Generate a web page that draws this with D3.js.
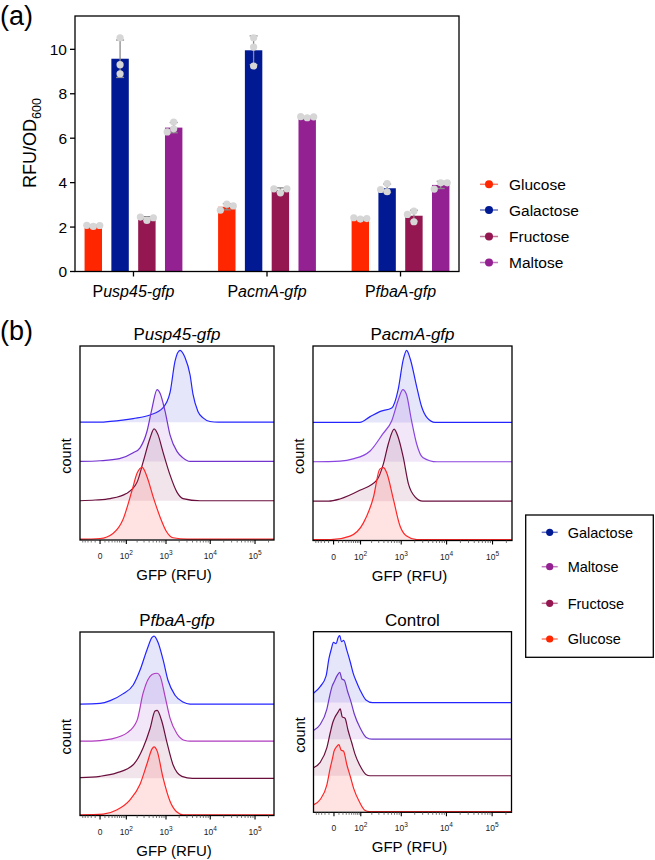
<!DOCTYPE html>
<html><head><meta charset="utf-8">
<script src="https://cdn.jsdelivr.net/npm/d3@7"></script>
<style>body{margin:0;background:#fff}svg{display:block;font-family:"Liberation Sans",Arial,Helvetica,sans-serif}</style>
</head><body><svg id="c" width="655" height="860"></svg>
<script>
// ---------- Panel (a) data ----------
const sugars = ["Glucose","Galactose","Fructose","Maltose"];
const promoters = ["usp45-gfp","acmA-gfp","fbaA-gfp"];
const glucoseReps   = [[2.03,2.08,2.07],[3.03,2.76,2.95],[2.36,2.42,2.38]];
const galactoseReps = [[10.52,9.31,8.90],[10.52,10.10,9.25],[3.96,3.59,3.69]];
const fructoseReps  = [[2.30,2.45,2.42],[3.54,3.72,3.72],[2.72,2.24,2.57]];
const maltoseReps   = [[6.73,6.42,6.28],[6.92,6.97,6.96],[3.99,3.71,3.99]];
const yTicksA = [0,2,4,6,8,10];
const barColors = ["#ff2600","#011993","#941751","#942192"];

// ---------- Panel (b) data: [GFP (RFU), % of mode] ----------
const usp45Galactose = [[-63,0],[0,0],[24,1],[157,5],[420,10],[850,20],[1236,41],[1610,85],[2090,100],[2710,90],[3520,66],[4100,39],[5300,15],[6900,6],[9870,1],[15000,0],[265000,0]];
const usp45Maltose   = [[-63,0],[0,1],[60,4],[157,12],[238,19],[355,42],[470,74],[620,100],[727,95],[950,70],[1236,37],[1780,14],[2440,5],[3520,0],[265000,0]];
const usp45Fructose  = [[-63,0],[-10,1],[24,3],[100,10],[200,26],[285,54],[420,87],[525,100],[650,92],[850,68],[1236,36],[1780,12],[2440,3],[5900,0],[265000,0]];
const usp45Glucose   = [[-63,0],[0,1],[33,8],[78,27],[146,68],[200,92],[270,100],[355,87],[500,59],[727,31],[1040,10],[1450,2],[3000,0],[265000,0]];

const acmAGalactose = [[-63,0],[95,0],[183,8],[318,15],[610,20],[850,45],[1110,87],[1320,100],[1610,87],[2200,50],[2830,22],[3690,7],[5620,0],[265000,0]];
const acmAMaltose   = [[-63,0],[13,1],[58,4],[183,15],[380,39],[610,57],[850,85],[1085,100],[1300,94],[1700,57],[2200,25],[3000,6],[6100,0],[265000,0]];
const acmAFructose  = [[-63,0],[-10,0],[13,3],[95,15],[270,29],[390,52],[510,80],[690,100],[850,89],[1110,61],[1450,24],[2030,6],[3000,0],[265000,0]];
const acmAGlucose   = [[-63,0],[-5,0],[45,5],[120,23],[225,60],[318,98],[390,100],[465,93],[665,56],[940,19],[1320,5],[2200,0],[265000,0]];

const fbaAGalactose = [[-63,0],[0,1],[24,5],[78,15],[157,28],[238,50],[355,80],[470,98],[525,100],[650,91],[850,66],[1110,35],[1610,13],[2440,3],[3520,0],[265000,0]];
const fbaAMaltose   = [[-63,0],[0,1],[24,3],[110,13],[200,31],[285,71],[470,98],[620,100],[727,96],[950,66],[1236,34],[1780,11],[2710,1],[3520,0],[265000,0]];
const fbaAFructose  = [[-63,1],[0,3],[47,8],[157,20],[285,45],[420,73],[554,99],[620,100],[800,84],[1040,54],[1450,20],[2300,3],[4000,0],[265000,0]];
const fbaAGlucose   = [[-63,0],[6,1],[47,7],[128,22],[238,45],[355,75],[470,97],[525,100],[620,94],[850,55],[1236,20],[1780,4],[2440,0],[265000,0]];

const ctrlGalactose = [[-63,14],[-35,24],[-17,40],[-10,66],[-5,80],[-1,90],[4,88],[8,97],[12,100],[16,91],[22,93],[32,78],[45,60],[58,43],[75,30],[95,19],[140,4],[210,0],[265000,0]];
const ctrlMaltose   = [[-63,13],[-35,22],[-15,45],[-8,66],[-3,80],[0,85],[6,95],[12,100],[17,90],[24,88],[34,72],[48,55],[62,38],[95,17],[140,3],[200,0],[265000,0]];
const ctrlFructose  = [[-63,12],[-35,20],[-15,42],[-7,65],[-2,80],[2,88],[8,95],[13,100],[18,88],[26,86],[36,68],[50,50],[65,33],[95,15],[140,2],[180,0],[265000,0]];
const ctrlGlucose   = [[-63,10],[-35,18],[-15,40],[-7,66],[-2,82],[0,90],[5,97],[10,100],[15,92],[22,90],[32,70],[45,52],[60,34],[90,15],[130,2],[170,0],[265000,0]];

const majorTicksB = [0,100,1000,10000,100000];
const majorLabelsB = [["0",""],["10","2"],["10","3"],["10","4"],["10","5"]];
const minorTicksB = [-50,-40,-30,-20,-10,10,20,30,40,50,60,70,80,90,200,300,400,500,600,700,800,900,2000,3000,4000,5000,6000,7000,8000,9000,20000,30000,40000,50000,60000,70000,80000,90000,200000];
const legendOrderB = ["Galactose","Maltose","Fructose","Glucose"];

const svg = d3.select("#c");

// ================= Panel (a) =================
svg.append("text").attr("x",0).attr("y",25).attr("font-size",27).text("(a)");
const ax0=75, ax1=459, ay0=16, ay1=271.5;
const xg = d3.scalePoint().domain(promoters).range([ax0,ax1]).padding(0.438);
const xs = d3.scaleBand().domain(sugars).range([-53.6,53.6]).paddingInner(0.35).paddingOuter(0.175);
const ya = d3.scaleLinear().domain([0,11.5]).range([ay1,ay0]);
const repsBySugar = [glucoseReps, galactoseReps, fructoseReps, maltoseReps];

const gA = svg.append("g");
promoters.forEach((p,pi)=>{
  sugars.forEach((s,si)=>{
    const reps = repsBySugar[si][pi];
    const m = d3.mean(reps), sd = d3.deviation(reps);
    const bx = xg(p)+xs(s);
    gA.append("rect").attr("x",bx).attr("y",ya(m)).attr("width",xs.bandwidth()).attr("height",ya(0)-ya(m)).attr("fill",barColors[si]);
    const cx = bx+xs.bandwidth()/2;
    const eb = gA.append("g").attr("stroke","#8a8a8a").attr("stroke-width",1.3);
    eb.append("line").attr("x1",cx).attr("x2",cx).attr("y1",ya(m-sd)).attr("y2",ya(m+sd));
    eb.append("line").attr("x1",cx-4).attr("x2",cx+4).attr("y1",ya(m+sd)).attr("y2",ya(m+sd));
    eb.append("line").attr("x1",cx-4).attr("x2",cx+4).attr("y1",ya(m-sd)).attr("y2",ya(m-sd));
    const placed=[];
    reps.forEach(v=>{
      const py=ya(v);
      for(const off of [0,-6.5,6.5,-13,13]){
        if(placed.every(q=>Math.hypot(q[0]-(cx+off),q[1]-py)>=6.5)){placed.push([cx+off,py]);break;}
      }
    });
    placed.forEach(q=>gA.append("circle").attr("cx",q[0]).attr("cy",q[1]).attr("r",3.6).attr("fill","#d6d6d6"));
  });
});
gA.append("rect").attr("x",ax0).attr("y",ay0).attr("width",ax1-ax0).attr("height",ay1-ay0).attr("fill","none").attr("stroke","#000").attr("stroke-width",1.3);
yTicksA.forEach(t=>{
  gA.append("line").attr("x1",ax0-5).attr("x2",ax0).attr("y1",ya(t)).attr("y2",ya(t)).attr("stroke","#000").attr("stroke-width",1.3);
  gA.append("text").attr("x",ax0-8).attr("y",ya(t)).attr("dy","0.36em").attr("text-anchor","end").attr("font-size",15.5).text(t);
});
promoters.forEach(p=>{
  gA.append("line").attr("x1",xg(p)).attr("x2",xg(p)).attr("y1",ay1).attr("y2",ay1+5).attr("stroke","#000").attr("stroke-width",1.3);
  const t=gA.append("text").attr("x",xg(p)).attr("y",297).attr("text-anchor","middle").attr("font-size",16);
  t.append("tspan").text("P");
  t.append("tspan").attr("font-style","italic").text(p);
});
const yl = gA.append("text").attr("transform","translate(36,143) rotate(-90)").attr("text-anchor","middle").attr("font-size",18);
yl.append("tspan").text("RFU/OD");
yl.append("tspan").attr("font-size",12.5).attr("dy",5).text("600");
const legYA=[184.3,210,236.5,262.5];
sugars.forEach((s,i)=>{
  gA.append("line").attr("x1",480).attr("x2",498).attr("y1",legYA[i]).attr("y2",legYA[i]).attr("stroke",barColors[i]).attr("stroke-opacity",0.6).attr("stroke-width",1.5);
  gA.append("circle").attr("cx",489).attr("cy",legYA[i]).attr("r",4).attr("fill",barColors[i]);
  gA.append("text").attr("x",509).attr("y",legYA[i]).attr("dy","0.36em").attr("font-size",15.5).text(s);
});

// ================= Panel (b) =================
svg.append("text").attr("x",0).attr("y",340).attr("font-size",27).text("(b)");
const histLine = {Galactose:"#2424ff", Maltose:"#8436cf", Fructose:"#6a0f3c", Glucose:"#ff2626"};
const histFill = {Galactose:"rgba(80,80,225,0.14)", Maltose:"rgba(150,70,205,0.13)", Fructose:"rgba(140,40,90,0.12)", Glucose:"rgba(255,80,80,0.16)"};
const offsetsB = {Glucose:0.02, Fructose:1, Maltose:2, Galactose:3};
const PEAK = 1.83;

const panels = [
  {title:["P","usp45-gfp"], x0:80, x1:274, y0:346, y1:540, maltose:"#7333cf", data:{Galactose:usp45Galactose,Maltose:usp45Maltose,Fructose:usp45Fructose,Glucose:usp45Glucose}},
  {title:["P","acmA-gfp"], x0:313, x1:512, y0:346, y1:540.5, maltose:"#8a45e0", data:{Galactose:acmAGalactose,Maltose:acmAMaltose,Fructose:acmAFructose,Glucose:acmAGlucose}},
  {title:["P","fbaA-gfp"], x0:80, x1:274, y0:632, y1:815.5, maltose:"#b03cc0", data:{Galactose:fbaAGalactose,Maltose:fbaAMaltose,Fructose:fbaAFructose,Glucose:fbaAGlucose}},
  {title:["Control",""], x0:313.5, x1:511.5, y0:631.7, y1:812.3, maltose:"#6d38c8", data:{Galactose:ctrlGalactose,Maltose:ctrlMaltose,Fructose:ctrlFructose,Glucose:ctrlGlucose}}
];

panels.forEach((p,pi)=>{
  const g = svg.append("g");
  const x = d3.scaleSymlog().constant(35).domain([-63,265000]).range([p.x0,p.x1]);
  const y = d3.scaleLinear().domain([0,4.94]).range([p.y1,p.y0]);
  const cid = "clip"+pi;
  svg.append("clipPath").attr("id",cid).append("rect").attr("x",p.x0).attr("y",p.y0).attr("width",p.x1-p.x0).attr("height",p.y1-p.y0);
  const inner = g.append("g").attr("clip-path",`url(#${cid})`);
  legendOrderB.forEach(s=>{
    const off = offsetsB[s];
    const area = d3.area().x(d=>x(d[0])).y0(y(off)).y1(d=>y(off+d[1]/100*PEAK)).curve(d3.curveMonotoneX);
    const line = d3.line().x(d=>x(d[0])).y(d=>y(off+d[1]/100*PEAK)).curve(d3.curveMonotoneX);
    const col = s==="Maltose" ? p.maltose : histLine[s];
    inner.append("path").datum(p.data[s]).attr("d",area).attr("fill",histFill[s]);
    inner.append("path").datum(p.data[s]).attr("d",line).attr("fill","none").attr("stroke",col).attr("stroke-width",1.2);
  });
  g.append("rect").attr("x",p.x0).attr("y",p.y0).attr("width",p.x1-p.x0).attr("height",p.y1-p.y0).attr("fill","none").attr("stroke","#000").attr("stroke-width",1.3);
  minorTicksB.forEach(t=>g.append("line").attr("x1",x(t)).attr("x2",x(t)).attr("y1",p.y1).attr("y2",p.y1+2.5).attr("stroke","#555").attr("stroke-width",0.8));
  majorTicksB.forEach((t,i)=>{
    g.append("line").attr("x1",x(t)).attr("x2",x(t)).attr("y1",p.y1).attr("y2",p.y1+4).attr("stroke","#000").attr("stroke-width",1.1);
    const tx = g.append("text").attr("x",x(t)).attr("y",p.y1+19).attr("text-anchor","middle").attr("font-size",8.5).attr("fill","#222");
    tx.append("tspan").text(majorLabelsB[i][0]);
    if(majorLabelsB[i][1]) tx.append("tspan").attr("font-size",6.5).attr("dy",-4).text(majorLabelsB[i][1]);
  });
  const cx = (p.x0+p.x1)/2;
  const tt = g.append("text").attr("x",cx).attr("y",p.y0-6).attr("text-anchor","middle").attr("font-size",17);
  tt.append("tspan").text(p.title[0]);
  if(p.title[1]) tt.append("tspan").attr("font-style","italic").text(p.title[1]);
  g.append("text").attr("x",cx-3).attr("y",p.y1+40).attr("text-anchor","middle").attr("font-size",15).text("GFP (RFU)");
  g.append("text").attr("transform",`translate(${p.x0-9},${(p.y0+p.y1)/2+13}) rotate(-90)`).attr("text-anchor","middle").attr("font-size",14.5).text("count");
});

const legB = svg.append("g");
legB.append("rect").attr("x",525.7).attr("y",515).attr("width",127.6).attr("height",142.3).attr("fill","none").attr("stroke","#000").attr("stroke-width",1.3);
const legYB=[532.3,566.7,603.3,639];
const dotB = {Galactose:"#011993", Maltose:"#942192", Fructose:"#941751", Glucose:"#ff2600"};
legendOrderB.forEach((s,i)=>{
  legB.append("line").attr("x1",541.7).attr("x2",557.7).attr("y1",legYB[i]).attr("y2",legYB[i]).attr("stroke",dotB[s]).attr("stroke-opacity",0.6).attr("stroke-width",1.5);
  legB.append("circle").attr("cx",549.7).attr("cy",legYB[i]).attr("r",3.6).attr("fill",dotB[s]);
  legB.append("text").attr("x",567.7).attr("y",legYB[i]).attr("dy","0.36em").attr("font-size",14.5).text(s);
});
</script></body></html>
